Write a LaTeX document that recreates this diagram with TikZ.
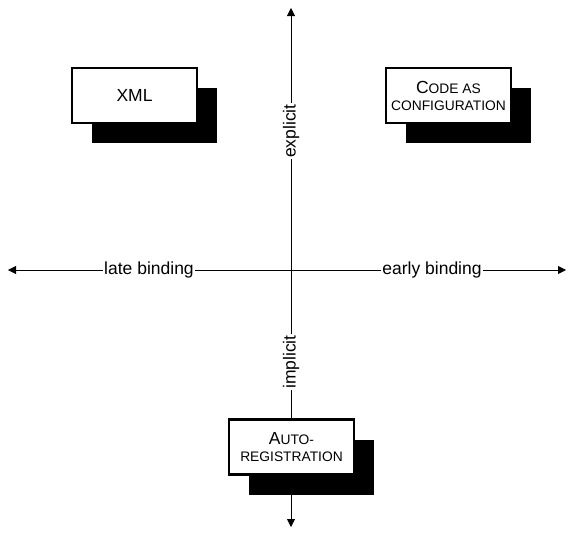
\documentclass[tikz,border=0pt]{standalone}
\usepackage{fontspec}
\setmainfont{Liberation Sans}
\usepackage{tikz}
\usetikzlibrary{arrows.meta,positioning,shadows}
\newcommand{\fakeSC}[1]{{\fontsize{13.8}{15}\selectfont\MakeUppercase{#1}}}

\begin{document}
\begin{tikzpicture}[x=1pt, y=-1pt,
  approach/.style={draw=black, line width=2.2pt, fill=white, align=center, minimum width=125pt, minimum height=55pt, font=\fontsize{17.5}{17}\selectfont, drop shadow={shadow xshift=20pt, shadow yshift=-20pt, fill=black, opacity=1}},
  axis/.style={{Triangle[length=8pt,width=8pt]}-{Triangle[length=8pt,width=8pt]}, line width=0.8pt},
  axlabel/.style={fill=white, inner xsep=1pt, inner ysep=2pt, font=\fontsize{17.5}{20}\selectfont}
]
  \useasboundingbox (0,0) rectangle (568,533);

  % axes
  \coordinate (west) at (8,270);
  \coordinate (east) at (566,270);
  \coordinate (north) at (291,8);
  \coordinate (south) at (291,527);
  \draw[axis] (west) -- (east);
  \draw[axis] (north) -- (south);

  \node[axlabel] (late) at (149,270) {late binding};
  \node[axlabel] (early) at (432,270) {early binding};
  \node[axlabel, rotate=90] (explicit) at (291,131) {explicit};
  \node[axlabel, rotate=90] (implicit) at (291,362) {implicit};

  % approaches
  \node[approach] (xml) at (134.5,95.5) {XML};
  \node[approach] (code) at (448.5,95.5) {C\fakeSC{ode as}\\\fakeSC{configuration}};
  \node[approach] (auto) at (291.5,447) {A\fakeSC{uto-}\\\fakeSC{registration}};
\end{tikzpicture}
\end{document}
